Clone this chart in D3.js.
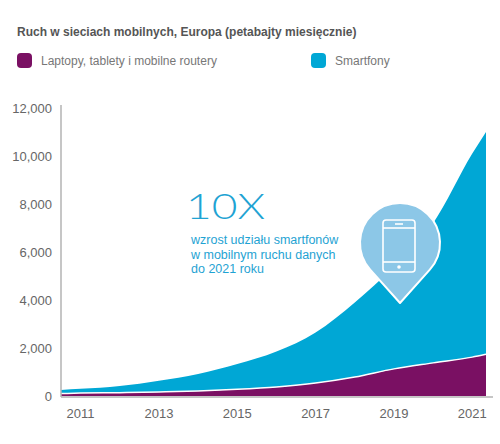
<!DOCTYPE html>
<html>
<head>
<meta charset="utf-8">
<script src="https://d3js.org/d3.v7.min.js"></script>
<style>
    body { margin: 0; background: #fff; }
    svg { display: block; font-family: "Liberation Sans", Arial, sans-serif; }
</style>
</head>
<body>
<div id="chart"></div>
<script>
// Data (petabytes per month)
const years = [2010.5, 2011, 2012, 2013, 2014, 2015, 2016, 2017, 2018, 2019, 2020, 2021, 2021.35];
const laptops = [100, 120, 140, 170, 210, 280, 380, 540, 790, 1130, 1380, 1620, 1740];
const smartphones = [150, 180, 280, 470, 710, 1050, 1470, 2110, 3110, 4270, 5820, 8480, 9260];

const yTicks = [0, 2000, 4000, 6000, 8000, 10000, 12000];
const xTicks = [2011, 2013, 2015, 2017, 2019, 2021];

const seriesNames = ["Laptopy, tablety i mobilne routery", "Smartfony"];
const title = "Ruch w sieciach mobilnych, Europa (petabajty miesięcznie)";
const calloutBig = "10X";
const calloutLines = ["wzrost udziału smartfonów", "w mobilnym ruchu danych", "do 2021 roku"];

// Layout
const width = 500;
const height = 444;
const plotLeft = 61;
const plotRight = 486;
const plotTop = 108;
const plotBottom = 396;

// Colors
const purple = "#7a1063";
const blue = "#00a7d5";
const pinBlue = "#8cc7e7";
const textGray = "#666";
const axisGray = "#b3b3b3";

const table = years.map((yr, i) => ({ year: yr, laptops: laptops[i], smartphones: smartphones[i] }));
const stack = d3.stack().keys(["laptops", "smartphones"])(table);

const x = d3.scaleLinear()
    .domain([years[0], years[years.length - 1]])
    .range([plotLeft, plotRight]);

const y = d3.scaleLinear()
    .domain([0, 12000])
    .range([plotBottom, plotTop]);

const svg = d3.select("#chart")
    .append("svg")
    .attr("width", width)
    .attr("height", height);

// Title
svg.append("text")
    .attr("x", 17)
    .attr("y", 36)
    .style("font-size", "12px")
    .style("font-weight", "bold")
    .style("fill", "#555")
    .text(title);

// Legend
const legend = [
    { name: seriesNames[0], color: purple, x: 17 },
    { name: seriesNames[1], color: blue, x: 311 }
];
const lg = svg.selectAll("g.legend")
    .data(legend)
    .enter()
    .append("g")
    .attr("class", "legend")
    .attr("transform", d => `translate(${d.x},53)`);
lg.append("rect")
    .attr("width", 15)
    .attr("height", 15)
    .attr("rx", 4)
    .style("fill", d => d.color);
lg.append("text")
    .attr("x", 24)
    .attr("y", 12)
    .style("font-size", "12px")
    .style("fill", "#777")
    .text(d => d.name);

// Areas
const area = d3.area()
    .x(d => x(d.data.year))
    .y0(d => y(d[0]))
    .y1(d => y(d[1]))
    .curve(d3.curveMonotoneX);

svg.selectAll("path.area")
    .data(stack)
    .enter()
    .append("path")
    .attr("class", "area")
    .attr("d", area)
    .style("fill", (d, i) => (i === 0 ? purple : blue));

// White separator on top of the purple layer
svg.append("path")
    .datum(stack[0])
    .attr("d", d3.line()
        .x(d => x(d.data.year))
        .y(d => y(d[1]))
        .curve(d3.curveMonotoneX))
    .style("fill", "none")
    .style("stroke", "#fff")
    .style("stroke-width", 1.5);

// Axes lines
svg.append("line")
    .attr("x1", plotLeft).attr("x2", plotLeft)
    .attr("y1", plotTop - 3).attr("y2", plotBottom + 1)
    .style("stroke", axisGray)
    .style("stroke-width", 1.5);
svg.append("line")
    .attr("x1", plotLeft).attr("x2", plotRight + 7)
    .attr("y1", plotBottom + 1).attr("y2", plotBottom + 1)
    .style("stroke", axisGray)
    .style("stroke-width", 1.5);

// Y tick labels
svg.selectAll("text.ytick")
    .data(yTicks)
    .enter()
    .append("text")
    .attr("class", "ytick")
    .attr("x", 52)
    .attr("y", d => y(d))
    .attr("dy", "0.35em")
    .attr("text-anchor", "end")
    .style("font-size", "13px")
    .style("fill", textGray)
    .text(d => d3.format(",")(d));

// X tick labels
svg.selectAll("text.xtick")
    .data(xTicks)
    .enter()
    .append("text")
    .attr("class", "xtick")
    .attr("x", d => x(d))
    .attr("y", 418)
    .attr("text-anchor", "middle")
    .style("font-size", "13px")
    .style("fill", textGray)
    .text(d => d);

// Callout text
svg.append("text")
    .attr("x", 186)
    .attr("y", 219)
    .attr("textLength", 79)
    .attr("lengthAdjust", "spacingAndGlyphs")
    .style("font-family", "Lato, 'Open Sans', sans-serif")
    .style("font-size", "36px")
    .style("font-weight", 300)
    .style("fill", "#1fa3d3")
    .text(calloutBig);

svg.selectAll("text.callout")
    .data(calloutLines)
    .enter()
    .append("text")
    .attr("class", "callout")
    .attr("x", 191)
    .attr("y", (d, i) => 244 + i * 14.5)
    .style("font-size", "12.5px")
    .style("fill", "#1fa3d3")
    .text(d => d);

// Pin with phone icon
const pinX = 400, pinY = 243, pinR = 40, tipDist = 60;
const theta = Math.acos(pinR / tipDist);
const angDown = Math.PI / 2;
const a1 = angDown - theta, a2 = angDown + theta;
const pinPath = d3.path();
pinPath.moveTo(pinX, pinY + tipDist);
pinPath.lineTo(pinX + pinR * Math.cos(a2), pinY + pinR * Math.sin(a2));
pinPath.arc(pinX, pinY, pinR, a2, a1 + 2 * Math.PI, false);
pinPath.closePath();

const pin = svg.append("g");
pin.append("path")
    .attr("d", pinPath.toString())
    .style("fill", pinBlue)
    .style("stroke", "#fff")
    .style("stroke-width", 2)
    .style("stroke-linejoin", "round");

const phone = pin.append("g")
    .attr("transform", `translate(${pinX - 1},${pinY + 3})`)
    .style("fill", "none")
    .style("stroke", "#fff")
    .style("stroke-width", 1.6);
phone.append("rect")
    .attr("x", -16).attr("y", -26)
    .attr("width", 32).attr("height", 52)
    .attr("rx", 3);
phone.append("line").attr("x1", -16).attr("x2", 16).attr("y1", -18).attr("y2", -18);
phone.append("line").attr("x1", -16).attr("x2", 16).attr("y1", 16).attr("y2", 16);
phone.append("line").attr("x1", -4).attr("x2", 4).attr("y1", -22).attr("y2", -22);
phone.append("circle")
    .attr("cx", 0).attr("cy", 21).attr("r", 1.8)
    .style("fill", "#fff").style("stroke", "none");
</script>
</body>
</html>
